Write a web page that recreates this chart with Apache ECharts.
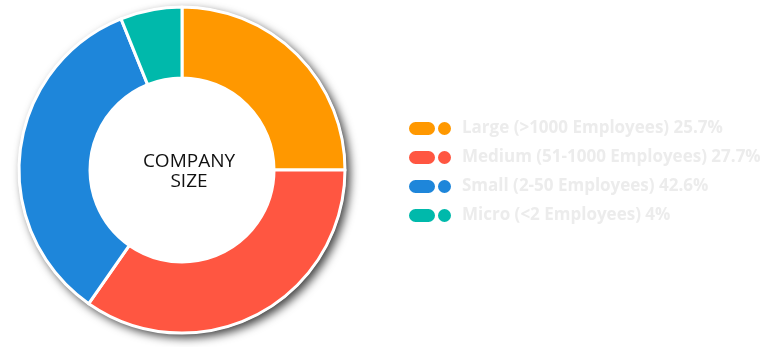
<!DOCTYPE html>
<html>
<head>
<meta charset="utf-8">
<script src="https://cdn.jsdelivr.net/npm/echarts@6/dist/echarts.min.js"></script>
<style>html,body{margin:0;padding:0;background:#fff}#c{width:775px;height:347px}</style>
</head>
<body>
<div id="c"></div>
<script>
const categories = ['Large (>1000 Employees)', 'Medium (51-1000 Employees)', 'Small (2-50 Employees)', 'Micro (<2 Employees)'];
const legendPct = ['25.7%', '27.7%', '42.6%', '4%'];
const sliceValues = [25.0, 34.7, 34.2, 6.1];
const colors = ['#ff9800', '#ff5641', '#1e86da', '#00b9ab'];

const chart = echarts.init(document.getElementById('c'), null, {renderer: 'canvas'});
const iconPath = 'path://M6.5 0H19.5A6.5 6.5 0 0 1 19.5 13H6.5A6.5 6.5 0 0 1 6.5 0Z M35.5 0A6.5 6.5 0 1 1 35.5 13A6.5 6.5 0 1 1 35.5 0Z';
const pctByName = {};
categories.forEach((c, i) => pctByName[c] = legendPct[i]);

chart.setOption({
  animation: false,
  color: colors,
  title: {
    text: 'COMPANY\nSIZE',
    left: 189,
    top: 152,
    textAlign: 'center',
    padding: 0,
    textStyle: {fontFamily: 'Open Sans', fontSize: 19, fontWeight: 'normal', color: '#111', lineHeight: 20}
  },
  legend: {
    orient: 'vertical',
    left: 409,
    top: 120,
    padding: 0,
    itemWidth: 42,
    itemHeight: 13,
    itemGap: 12,
    icon: iconPath,
    itemStyle: {borderWidth: 0},
    data: categories,
    formatter: name => name + ' ' + pctByName[name],
    textStyle: {color: '#ececec', fontSize: 17, fontWeight: 'bold', fontFamily: 'Open Sans', padding: [0, 0, 0, 6]}
  },
  series: [
    {
      type: 'pie',
      silent: true,
      center: [182, 170],
      radius: [0, 164],
      z: 1,
      label: {show: false},
      labelLine: {show: false},
      itemStyle: {color: '#ffffff', shadowBlur: 10, shadowColor: 'rgba(0,0,0,0.75)', shadowOffsetX: 4, shadowOffsetY: 4},
      data: [{value: 1, name: '_bg'}],
      legendHoverLink: false
    },
    {
      type: 'pie',
      center: [182, 170],
      radius: [92, 163],
      startAngle: 90,
      z: 2,
      label: {show: false},
      labelLine: {show: false},
      itemStyle: {borderColor: '#ffffff', borderWidth: 3},
      data: categories.map((c, i) => ({name: c, value: sliceValues[i]}))
    }
  ]
});
</script>
</body>
</html>
